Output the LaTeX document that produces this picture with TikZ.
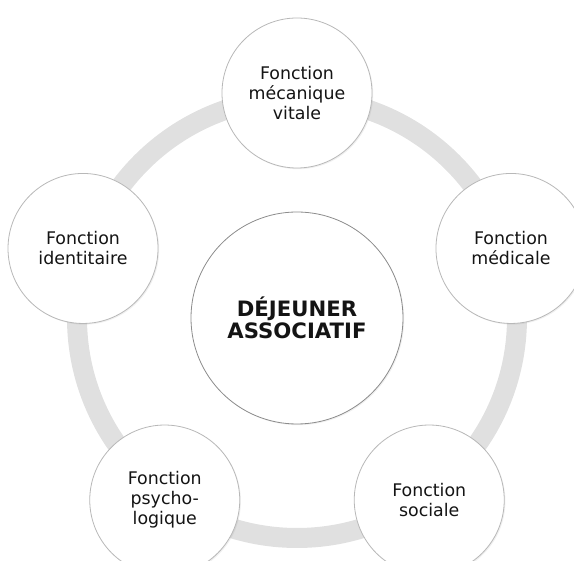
\documentclass[tikz,border=0pt]{standalone}
\usepackage{fontspec}
\setmainfont{DejaVu Sans}
\usetikzlibrary{shadows}
\tikzset{
  basic/.style    = {circle, draw=black!28, fill=white, inner sep=0pt, align=center,
                     text=black!92, drop shadow={opacity=0.12, shadow xshift=0.6pt, shadow yshift=-0.6pt}},
  centre/.style   = {basic, draw=black!45, minimum size=106pt,
                     font=\bfseries\fontsize{10.6}{11}\selectfont},
  fonction/.style = {basic, minimum size=75pt, font=\fontsize{8.7}{10}\selectfont},
  anneau/.style   = {draw=black!12, line width=10pt}
}
\begin{document}
\begin{tikzpicture}[x=0.5pt, y=0.5pt]
\clip (-297,-243) rectangle (277,318);

% anneau, dessine en premier
\coordinate (milieu) at (0,0);
\draw[anneau] (milieu) circle (220);

% noeud central
\node[centre] (dej) at (milieu) {DÉJEUNER\\ASSOCIATIF};

% les cinq fonctions, autour du centre
\node[fonction] (f1) at (90:225)  {Fonction\\mécanique\\vitale};
\node[fonction] (f2) at (18:225)  {Fonction\\médicale};
\node[fonction] (f3) at (-54:225) {Fonction\\sociale};
\node[fonction] (f4) at (234:225) {Fonction\\psycho-\\logique};
\node[fonction] (f5) at (162:225) {Fonction\\identitaire};
\end{tikzpicture}
\end{document}
